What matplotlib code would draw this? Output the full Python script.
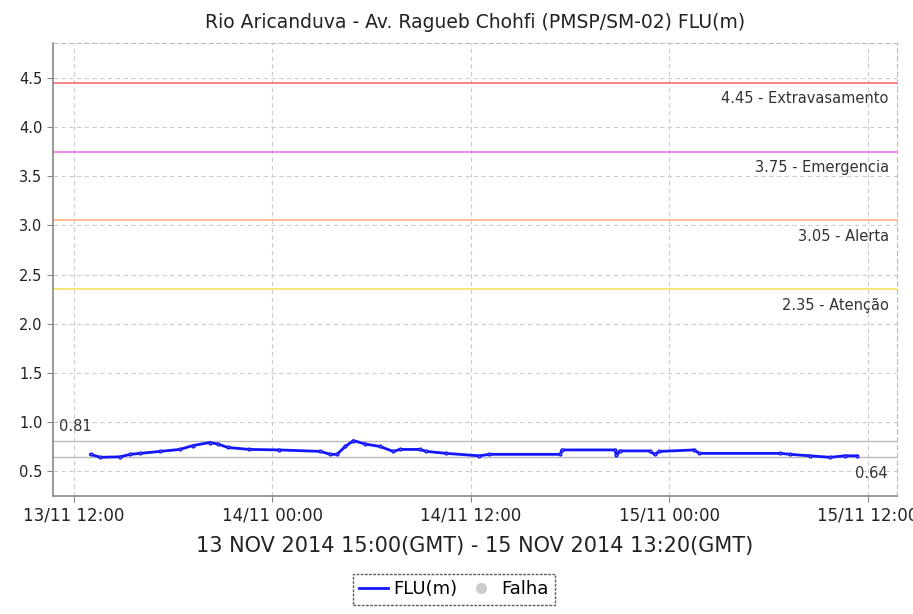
import datetime as dt

import matplotlib
matplotlib.use("Agg")
import matplotlib.pyplot as plt
import matplotlib.dates as mdates
from matplotlib.lines import Line2D

# hours after 13/11/2014 12:00 (local time) and river level FLU(m)
hours = [1.0, 1.6, 2.8, 3.4, 4.0, 5.2, 6.4, 7.2, 8.2, 8.7, 9.3, 10.6, 12.4,
         14.9, 15.5, 15.9, 16.4, 16.9, 17.6, 18.5, 19.3, 19.7, 20.9, 21.3,
         22.5, 24.5, 25.1, 29.4, 29.5, 32.7, 32.8, 33.0, 34.8, 35.1, 35.4,
         37.5, 37.8, 42.7, 43.3, 44.5, 45.7, 46.6, 47.33]
flu = [0.67, 0.64, 0.645, 0.67, 0.68, 0.70, 0.72, 0.76, 0.79, 0.775, 0.74,
       0.72, 0.715, 0.70, 0.67, 0.67, 0.75, 0.81, 0.775, 0.75, 0.70, 0.72,
       0.72, 0.70, 0.68, 0.655, 0.67, 0.67, 0.715, 0.715, 0.66, 0.705,
       0.705, 0.67, 0.70, 0.715, 0.68, 0.68, 0.67, 0.655, 0.64, 0.655, 0.655]

limit_values = [4.45, 3.75, 3.05, 2.35]
limit_names = ["Extravasamento", "Emergencia", "Alerta", "Atenção"]
limit_colors = ["#f07070", "#f070f0", "#ffb380", "#f5e060"]

max_val = 0.81
min_val = 0.64

start = dt.datetime(2014, 11, 13, 12, 0)
times = [start + dt.timedelta(hours=h) for h in hours]

fig = plt.figure(figsize=(9.13, 6.14), dpi=100)
ax = fig.add_axes([0.058, 0.192, 0.9245, 0.738])

for v, name, c in zip(limit_values, limit_names, limit_colors):
    ax.axhline(v, color=c, lw=1.2, zorder=2)
    ax.annotate("%.2f - %s" % (v, name), xy=(1, v), xycoords=("axes fraction", "data"),
                xytext=(-6, -11.5), textcoords="offset points", ha="right", va="center",
                fontsize=10.5, color="#333333")

ax.axhline(max_val, color="#bbbbbb", lw=1, zorder=2)
ax.axhline(min_val, color="#bbbbbb", lw=1, zorder=2)
ax.annotate("%.2f" % max_val, xy=(0, max_val), xycoords=("axes fraction", "data"),
            xytext=(4, 10), textcoords="offset points", ha="left", va="center",
            fontsize=10.5, color="#333333")
ax.annotate("%.2f" % min_val, xy=(1, min_val), xycoords=("axes fraction", "data"),
            xytext=(-7, -11.5), textcoords="offset points", ha="right", va="center",
            fontsize=10.5, color="#333333")

ax.plot(times, flu, color="#1515ff", lw=2, marker="o", ms=2, mfc="#8888ff",
        mec="#1515ff", zorder=3)

ax.set_xlim(start - dt.timedelta(hours=1.27), start + dt.timedelta(hours=49.76))
ax.set_ylim(0.245, 4.856)
ax.set_yticks([0.5, 1.0, 1.5, 2.0, 2.5, 3.0, 3.5, 4.0, 4.5])
ax.xaxis.set_major_locator(mdates.HourLocator(byhour=[0, 12]))
ax.xaxis.set_major_formatter(mdates.DateFormatter("%d/%m %H:%M"))

ax.grid(True, color="#cccccc", ls=(0, (4, 3)), lw=0.8)
ax.set_axisbelow(True)
for s in ["top", "right"]:
    ax.spines[s].set_color("#bbbbbb")
    ax.spines[s].set_linestyle((0, (4, 3)))
    ax.spines[s].set_linewidth(0.8)
for s in ["left", "bottom"]:
    ax.spines[s].set_color("#888888")
    ax.spines[s].set_linewidth(1.2)
ax.tick_params(axis="both", colors="#888888", labelcolor="#222222", length=4)
ax.tick_params(axis="y", labelsize=10.5)
ax.tick_params(axis="x", labelsize=12)

ax.set_title("Rio Aricanduva - Av. Ragueb Chohfi (PMSP/SM-02) FLU(m)",
             fontsize=13.5, color="#222222", pad=11)
ax.set_xlabel("13 NOV 2014 15:00(GMT) - 15 NOV 2014 13:20(GMT)",
              fontsize=15, color="#222222", labelpad=8)

handles = [Line2D([], [], color="#1515ff", lw=2),
           Line2D([], [], color="#cccccc", marker="o", ls="none", ms=7)]
leg = fig.legend(handles, ["FLU(m)", "Falha"], loc="center", bbox_to_anchor=(0.497, 0.04),
                 ncol=2, fontsize=13, frameon=True, fancybox=False,
                 handlelength=1.6, handletextpad=0.3, columnspacing=0.5,
                 borderpad=0.35)
leg.get_frame().set_edgecolor("#333333")
leg.get_frame().set_linestyle((0, (2, 1)))

fig.savefig("out.png", dpi=100)
